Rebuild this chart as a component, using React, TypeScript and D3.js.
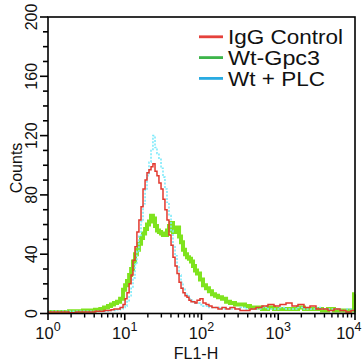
import React from "react";
import * as d3 from "d3";

const channels = [1, 1.23, 1.52, 1.88, 2.32, 2.86, 3.5, 4.1, 4.8, 5.37, 6.05, 6.62, 7.24, 7.93, 8.7, 9.5,
  10.1, 10.7, 11.4, 12.1, 12.8, 13.6, 14.4, 15.3, 16.3, 17.3, 18.4, 19.5, 20.7, 22.0, 23.3, 24.8, 26.3, 27.9, 29.7,
  31.5, 33.4, 35.5, 37.7, 40.1, 42.5, 45.2, 48, 51, 54.1, 57.4, 61, 64.7, 68.7, 73, 77.5, 82.3, 87.4,
  95.6, 104.6, 114.4, 125, 137, 150, 164, 185, 209, 235, 273, 318, 369, 428, 513, 614, 735, 880,
  1054, 1262, 1511, 1808, 2165, 2592, 3104, 3716, 4449, 5326, 6380, 7633, 8870, 9705, 10000];

const iggControl = [1, 1, 1, 0.5, 1, 1, 1, 1.5, 1.5, 2, 2, 2.5, 3, 3, 4, 6,
  10, 14, 20, 26, 36, 45, 55, 63, 72, 84, 90, 95, 97, 99, 101, 96, 93, 88, 84,
  77, 70, 63, 53, 46, 38, 32, 27, 21, 17, 14, 12, 11, 9, 8, 8, 7, 9,
  10, 7, 6, 5, 4, 4, 3, 4, 3, 4, 3, 2, 2, 3, 4, 5, 6, 5,
  6, 7, 5, 6, 4, 5, 3, 3, 2, 3, 2, 1, 2, 2, 2];

const wtPlc = [1.5, 1.5, 1.5, 1.5, 1.5, 1.5, 1.5, 1.5, 1.5, 1.5, 2, 2, 2, 2.5, 3, 4,
  5, 8, 12, 17, 24, 33, 42, 52, 62, 74, 84, 93, 102, 110, 120, 112, 108, 104, 98,
  92, 84, 75, 66, 56, 46, 39, 32, 26, 21, 17, 14, 12, 10, 9, 8, 7, 7,
  6, 5, 5, 4, 4, 4, 4, 3, 3, 3, 3, 4, 3, 3, 3, 4, 3, 3,
  4, 3, 3, 4, 3, 3, 4, 3, 3, 3, 2, 3, 2, 2, 2];

const wtGpc3 = [1, 1, 1, 1.5, 1.5, 2, 2, 2.5, 3, 4, 5, 6, 7, 8, 10, 16,
  19, 22, 26, 30, 35, 40, 43, 47, 51, 54, 57, 60, 62, 66, 64, 59, 56, 55, 54,
  53, 53, 56, 59, 61, 55, 57, 58, 52, 48, 43, 40, 38, 37, 35, 32, 29, 27,
  23, 19, 17, 15, 13, 12, 11, 10, 8, 7, 6, 6, 5, 4, 4, 3, 4, 3,
  3, 3, 3, 4, 3, 3, 3, 2, 3, 2, 2, 2, 2, 13, 13];

const legendLabels = ["IgG Control", "Wt-Gpc3", "Wt + PLC"];
const legendColors = ["#E5413B", "#3DB54A", "#29ABE2"];
const xDecades = [1, 10, 100, 1000, 10000];
const xExponents = ["0", "1", "2", "3", "4"];
const yTicks = [0, 40, 80, 120, 160, 200];
const yMinor = [10, 20, 30, 50, 60, 70, 90, 100, 110, 130, 140, 150, 170, 180, 190];

export default function App() {
  const L = 48, R = 355, T = 17, B = 313.5;
  const x = d3.scaleLog().domain([1, 10000]).range([L, R]);
  const y = d3.scaleLinear().domain([0, 200]).range([B, T]);
  const line = (vals: number[]) =>
    d3.line<number>()
      .x((_, i) => x(channels[i]))
      .y((v) => y(v))
      .curve(d3.curveStepAfter)(vals) as string;

  const xMinor: number[] = [];
  for (let d = 0; d < 4; d++) for (let k = 2; k <= 9; k++) xMinor.push(k * Math.pow(10, d));

  const font = "'Liberation Sans', Arial, Helvetica, sans-serif";
  const legendWidths = [115, 92, 97];

  return (
    <svg width={362} height={363} style={{ position: "absolute", left: 0, top: 0, background: "#fff" }} fontFamily={font}>
      <rect x={0} y={0} width={362} height={363} fill="#fff" />
      {/* data */}
      <path d={line(wtGpc3)} fill="none" stroke="#7FE31E" strokeWidth={4} />
      <path d={line(wtPlc)} fill="none" stroke="#7EEAFA" strokeWidth={1.6} strokeDasharray="2,1.5" />
      <path d={line(iggControl)} fill="none" stroke="#E2392F" strokeWidth={1.5} />
      {/* frame */}
      <rect x={L} y={T} width={R - L} height={B - T} fill="none" stroke="#000" strokeWidth={1.6} />
      {/* x ticks */}
      {xDecades.map((v) => (
        <line key={"xM" + v} x1={x(v)} x2={x(v)} y1={B} y2={B + 6.5} stroke="#000" strokeWidth={1.6} />
      ))}
      {xMinor.map((v) => (
        <line key={"xm" + v} x1={x(v)} x2={x(v)} y1={B} y2={B + 4} stroke="#000" strokeWidth={1.4} />
      ))}
      {xDecades.map((v, i) => {
        const last = i === xDecades.length - 1;
        return (
          <text key={"xl" + v} x={last ? 361.5 : x(v)} y={339} textAnchor={last ? "end" : "middle"} fontSize={16.5} fill="#111">
            10<tspan fontSize={12.5} dy={-8}>{xExponents[i]}</tspan>
          </text>
        );
      })}
      <text x={196} y={359} textAnchor="middle" fontSize={16} fill="#111">FL1-H</text>
      {/* y ticks */}
      {yTicks.map((v) => (
        <line key={"yM" + v} x1={L - 8} x2={L} y1={y(v)} y2={y(v)} stroke="#000" strokeWidth={1.6} />
      ))}
      {yMinor.map((v) => (
        <line key={"ym" + v} x1={L - 5} x2={L} y1={y(v)} y2={y(v)} stroke="#000" strokeWidth={1.6} />
      ))}
      {yTicks.map((v) => (
        <text key={"yl" + v} transform={`translate(37,${y(v)}) rotate(-90)`} textAnchor="middle" fontSize={16} fill="#111">
          {v}
        </text>
      ))}
      <text transform={`translate(22,168) rotate(-90)`} textAnchor="middle" fontSize={16} fill="#111">Counts</text>
      {/* legend */}
      {legendLabels.map((lab, i) => (
        <g key={lab}>
          <line x1={199} x2={223} y1={36.8 + i * 20.8} y2={36.8 + i * 20.8} stroke={legendColors[i]} strokeWidth={2.8} />
          <text x={228} y={43.5 + i * 21} fontSize={20} fill="#111" textLength={legendWidths[i]} lengthAdjust="spacingAndGlyphs">{lab}</text>
        </g>
      ))}
    </svg>
  );
}
